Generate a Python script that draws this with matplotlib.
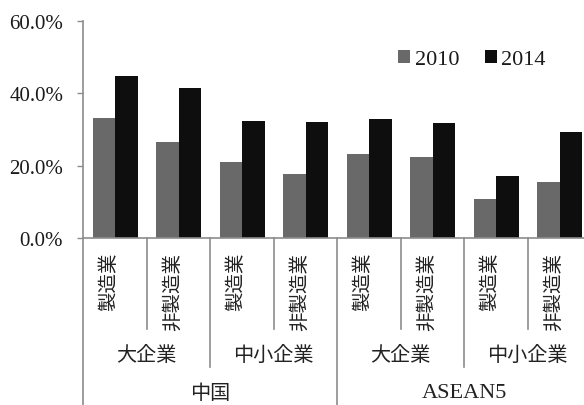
import matplotlib
matplotlib.use('Agg')
import matplotlib.pyplot as plt
import matplotlib.transforms as mtransforms
from matplotlib.lines import Line2D

# data
industries = ['製造業', '非製造業', '製造業', '非製造業',
              '製造業', '非製造業', '製造業', '非製造業']
sizes = ['大企業', '中小企業', '大企業', '中小企業']
regions = ['中国', 'ASEAN5']
v2010 = [33.1, 26.4, 21.0, 17.8, 23.2, 22.5, 10.8, 15.5]
v2014 = [44.8, 41.4, 32.4, 32.1, 32.9, 31.8, 17.0, 29.2]
yticks = [0, 20, 40, 60]

JP = 'Noto Sans CJK JP'
SERIF = 'Liberation Serif'
AXIS_C = '#8c8c8c'

W, H = 584, 406
fig = plt.figure(figsize=(W / 100, H / 100), dpi=100)
# axes runs slightly past the right edge, like the cropped original
ax = fig.add_axes([83 / W, (H - 239) / H, 508 / W, 217.3 / H])

x = list(range(len(industries)))
bw = 0.355
ax.bar([i - 0.17 for i in x], v2010, width=bw, color='#696969', label='2010')
ax.bar([i + 0.185 for i in x], v2014, width=bw, color='#0e0e0e', label='2014')

ax.set_xlim(-0.5, len(x) - 0.5)
ax.set_ylim(0, 60)
ax.set_yticks(yticks)
ax.set_yticklabels([f'{v:.1f}%' for v in yticks], fontfamily=SERIF, fontsize=15,
                   color='#1a1a1a')
ax.tick_params(axis='y', length=4.3, width=1, color=AXIS_C, pad=10)
ax.set_xticks([])
for s in ['top', 'right']:
    ax.spines[s].set_visible(False)
for s in ['left', 'bottom']:
    ax.spines[s].set_color(AXIS_C)
    ax.spines[s].set_linewidth(1.2)

trans = mtransforms.blended_transform_factory(ax.transData, ax.transAxes)

# rotated industry labels
for i, lab in enumerate(industries):
    ax.text(i - 0.09, -0.064, lab, rotation=90, ha='center', va='top',
            fontfamily=JP, fontsize=14, color='#222222', transform=trans)

# separator lines under the axis
for b in range(len(x) + 1):
    xb = b - 0.5
    if b % 4 == 0:
        y_end = -0.82
    elif b % 2 == 0:
        y_end = -0.594
    else:
        y_end = -0.419
    ax.add_line(Line2D([xb, xb], [0, y_end], color=AXIS_C, lw=1.2,
                       transform=trans, clip_on=False))

# firm size labels
for j, lab in enumerate(sizes):
    ax.text(2 * j + 0.5, -0.538, lab, ha='center', va='center',
            fontfamily=JP, fontsize=14.5, color='#222222', transform=trans)

# region labels
for k, lab in enumerate(regions):
    fam = JP if k == 0 else SERIF
    size = 14.5 if k == 0 else 16
    ax.text(4 * k + 1.5, -0.712, lab, ha='center', va='center',
            fontfamily=fam, fontsize=size, color='#222222', transform=trans)

leg = fig.legend(loc='center', bbox_to_anchor=(472 / W, 1 - 60.5 / H), ncol=2,
                 frameon=False, handlelength=0.55, handleheight=0.55,
                 handletextpad=0.2, columnspacing=1.15,
                 prop={'family': SERIF, 'size': 16})
for t in leg.get_texts():
    t.set_color('#1a1a1a')

fig.savefig('out.png', dpi=100)
